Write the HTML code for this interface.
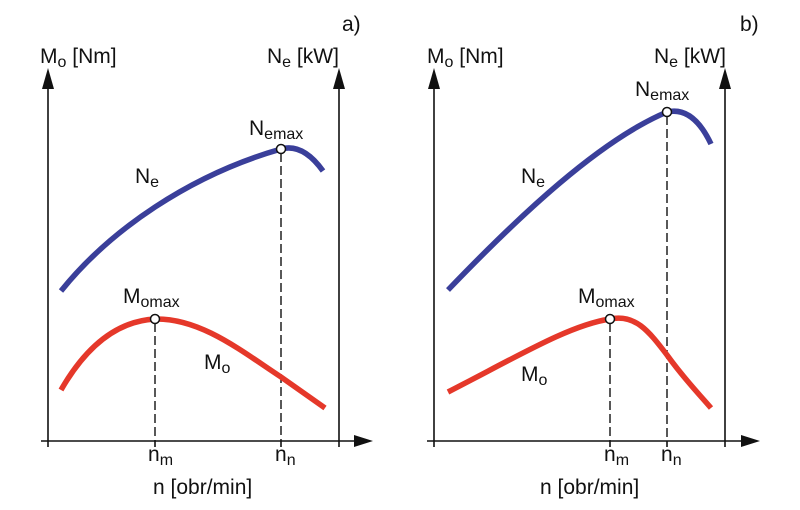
<!DOCTYPE html>
<html><head><meta charset="utf-8"><style>
html,body{margin:0;padding:0;background:#fff}
svg{display:block}
text{font-family:"Liberation Sans",sans-serif;fill:#111}
</style></head><body>
<svg width="800" height="510" viewBox="0 0 800 510" xmlns="http://www.w3.org/2000/svg">
<g stroke="#111" stroke-width="1.6" fill="none">
<line x1="48" y1="85" x2="48" y2="447"/>
<line x1="339" y1="85" x2="339" y2="447"/>
<line x1="41" y1="441" x2="358" y2="441"/>
<line x1="155" y1="441" x2="155" y2="447"/>
<line x1="281" y1="441" x2="281" y2="447"/>
<line x1="434" y1="85" x2="434" y2="447"/>
<line x1="725" y1="85" x2="725" y2="447"/>
<line x1="427" y1="441" x2="745" y2="441"/>
<line x1="610" y1="441" x2="610" y2="447"/>
<line x1="667" y1="441" x2="667" y2="447"/>
</g>
<g fill="#111">
<polygon points="48,68 42,89 54,89"/>
<polygon points="339,68 333,89 345,89"/>
<polygon points="373,441 354,435 354,447"/>
<polygon points="434,68 428,89 440,89"/>
<polygon points="725,68 719,89 731,89"/>
<polygon points="760,441 741,435 741,447"/>
</g>
<g stroke="#111" stroke-width="1.4" stroke-dasharray="9,4" fill="none">
<line x1="155" y1="323" x2="155" y2="441"/>
<line x1="281" y1="153" x2="281" y2="441"/>
<line x1="610" y1="323" x2="610" y2="441"/>
<line x1="667" y1="116" x2="667" y2="441"/>
</g>
<g fill="none" stroke-width="5.5">
<path d="M61,291 C110,230 190,175 281,149 Q303,143 323,171" stroke="#3a3f9a"/>
<path d="M61,390 Q100,322 155,319 C200,318 240,350 281,377 L325,408" stroke="#e5382a"/>
<path d="M448,290 C520,215 600,140 667,112 Q693,106 711,144" stroke="#3a3f9a"/>
<path d="M448,392 C520,355 570,325 610,319 C635,314 648,330 667,355 C685,380 700,395 711,408" stroke="#e5382a"/>
</g>
<g fill="#fff" stroke="#111" stroke-width="1.5">
<circle cx="281" cy="149" r="4.5"/>
<circle cx="155" cy="319" r="4.5"/>
<circle cx="667" cy="112" r="4.5"/>
<circle cx="610" cy="319" r="4.5"/>
</g>
<g font-size="21">
<text x="342" y="31">a)</text>
<text x="740" y="31">b)</text>
<text x="40" y="63">M<tspan font-size="16" dy="4">o</tspan><tspan dy="-4"> [Nm]</tspan></text>
<text x="267" y="63">N<tspan font-size="16" dy="4">e</tspan><tspan dy="-4"> [kW]</tspan></text>
<text x="427" y="63">M<tspan font-size="16" dy="4">o</tspan><tspan dy="-4"> [Nm]</tspan></text>
<text x="654" y="63">N<tspan font-size="16" dy="4">e</tspan><tspan dy="-4"> [kW]</tspan></text>
<text x="249" y="135">N<tspan font-size="16" dy="4">emax</tspan></text>
<text x="123" y="303">M<tspan font-size="16" dy="4">omax</tspan></text>
<text x="135" y="183">N<tspan font-size="16" dy="4">e</tspan></text>
<text x="204" y="369">M<tspan font-size="16" dy="4">o</tspan></text>
<text x="635" y="96">N<tspan font-size="16" dy="4">emax</tspan></text>
<text x="578" y="303">M<tspan font-size="16" dy="4">omax</tspan></text>
<text x="521" y="183">N<tspan font-size="16" dy="4">e</tspan></text>
<text x="521" y="381">M<tspan font-size="16" dy="4">o</tspan></text>
<text x="148" y="461">n<tspan font-size="16" dy="4">m</tspan></text>
<text x="275" y="461">n<tspan font-size="16" dy="4">n</tspan></text>
<text x="153" y="494">n [obr/min]</text>
<text x="604" y="461">n<tspan font-size="16" dy="4">m</tspan></text>
<text x="661" y="461">n<tspan font-size="16" dy="4">n</tspan></text>
<text x="540" y="494">n [obr/min]</text>
</g>
</svg>
</body></html>
